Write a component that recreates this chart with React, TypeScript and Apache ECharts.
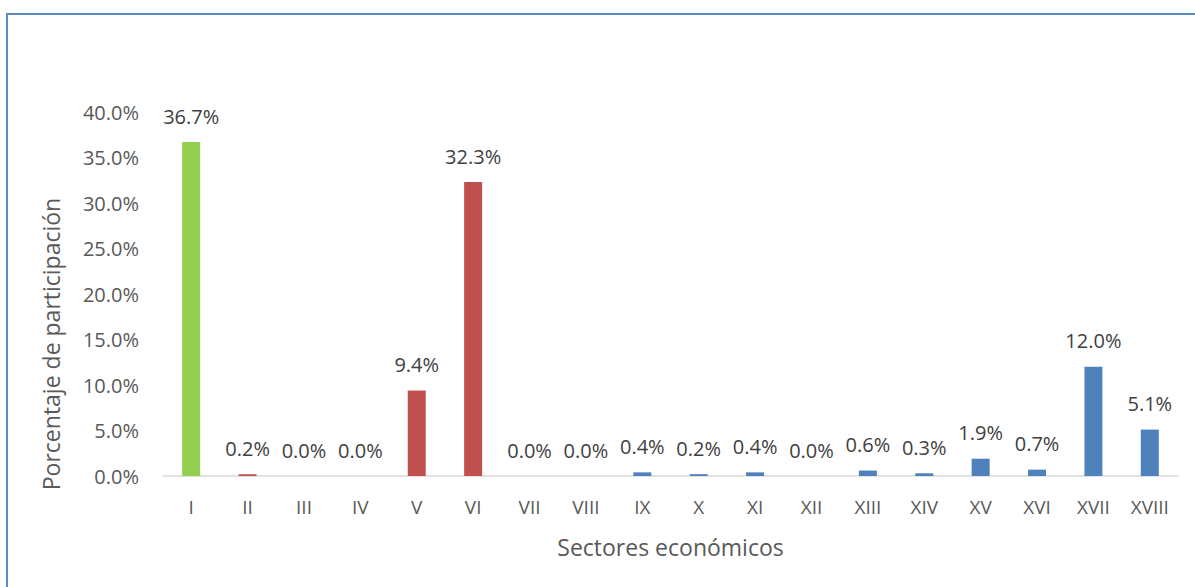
import React, { useEffect, useRef } from "react";
import * as echarts from "echarts";

const categories = ["I", "II", "III", "IV", "V", "VI", "VII", "VIII", "IX", "X", "XI", "XII", "XIII", "XIV", "XV", "XVI", "XVII", "XVIII"];
const values = [36.7, 0.2, 0.0, 0.0, 9.4, 32.3, 0.0, 0.0, 0.4, 0.2, 0.4, 0.0, 0.6, 0.3, 1.9, 0.7, 12.0, 5.1];
const groups = ["a", "b", "c", "c", "b", "b", "c", "c", "c", "c", "c", "c", "c", "c", "c", "c", "c", "c"];
const yTicks = [0, 5, 10, 15, 20, 25, 30, 35, 40];

const groupColors: Record<string, string> = { a: "#92D050", b: "#C0504D", c: "#4F81BD" };
const FONT = "'Open Sans', sans-serif";

export default function App() {
  const ref = useRef<HTMLDivElement>(null);
  useEffect(() => {
    const chart = echarts.init(ref.current!, null, { renderer: "svg" });
    chart.setOption({
      animation: false,
      textStyle: { fontFamily: FONT },
      graphic: [
        {
          type: "rect",
          shape: { x: 7, y: 14, width: 1400, height: 800 },
          style: { fill: "none", stroke: "#5B8AC6", lineWidth: 2 },
          silent: true,
          z: 100,
        },
      ],
      grid: { left: 163, right: 17, top: 112, bottom: 111 },
      xAxis: {
        type: "category",
        data: categories,
        name: "Sectores económicos",
        nameLocation: "middle",
        nameGap: 59,
        nameTextStyle: { fontSize: 23, color: "#595959", fontFamily: FONT },
        axisLine: { lineStyle: { color: "#D9D9D9", width: 1.5 } },
        axisTick: { show: false },
        axisLabel: { color: "#595959", fontSize: 19, margin: 21, fontFamily: FONT },
      },
      yAxis: {
        type: "value",
        min: yTicks[0],
        max: yTicks[yTicks.length - 1],
        interval: 5,
        name: "Porcentaje de participación",
        nameLocation: "middle",
        nameGap: 101,
        nameTextStyle: { fontSize: 23, color: "#595959", fontFamily: FONT, padding: [0, 100, 0, 0] },
        axisLine: { show: false },
        axisTick: { show: false },
        splitLine: { show: false },
        axisLabel: {
          color: "#595959",
          fontSize: 20,
          margin: 24,
          fontFamily: FONT,
          formatter: (v: number) => v.toFixed(1) + "%",
        },
      },
      series: [
        {
          type: "bar",
          barWidth: 18,
          data: values.map((v, i) => ({ value: v, itemStyle: { color: groupColors[groups[i]] } })),
          label: {
            show: true,
            position: "top",
            distance: 16,
            color: "#404040",
            fontSize: 20,
            fontFamily: FONT,
            formatter: (p: any) => Number(p.value).toFixed(1) + "%",
          },
        },
      ],
    });
    return () => chart.dispose();
  }, []);
  return (
    <div
      ref={ref}
      style={{ position: "fixed", left: 0, top: 0, width: 1195, height: 587, background: "#fff" }}
    />
  );
}
